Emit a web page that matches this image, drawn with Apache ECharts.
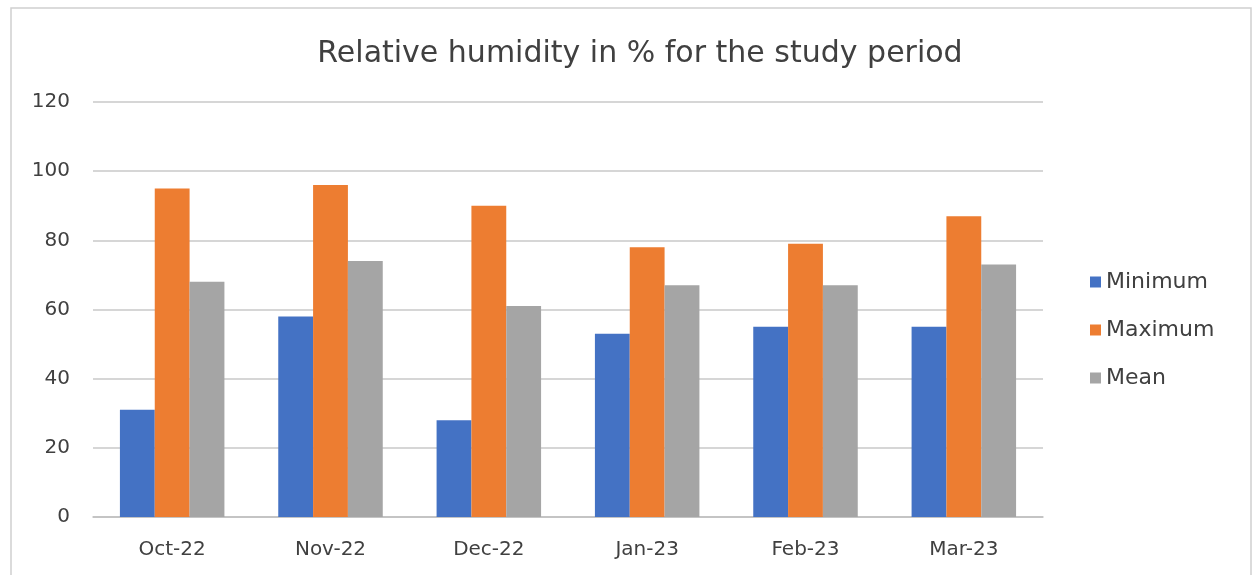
<!DOCTYPE html>
<html><head><meta charset="utf-8">
<script src="https://cdn.jsdelivr.net/npm/echarts@6/dist/echarts.min.js"></script>
<style>html,body{margin:0;padding:0;background:#fff}#c{width:1258px;height:575px}</style>
</head><body><div id="c"></div>
<script>
const categories = ['Oct-22','Nov-22','Dec-22','Jan-23','Feb-23','Mar-23'];
const minimum = [31, 58, 28, 53, 55, 55];
const maximum = [95, 96, 90, 78, 79, 87];
const mean = [68, 74, 61, 67, 67, 73];
const yTicks = [0, 20, 40, 60, 80, 100, 120];

const FONT = 'DejaVu Sans';
const chart = echarts.init(document.getElementById('c'));
chart.setOption({
  animation: false,
  title: {
    text: 'Relative humidity in % for the study period',
    left: 635, top: 34, textAlign: 'center',
    textStyle: {fontFamily: FONT, fontWeight: 'normal', fontSize: 30, color: '#404040'}
  },
  graphic: [{type:'rect', shape:{x:11,y:8,width:1240,height:570}, style:{fill:'none', stroke:'#d0d0d0', lineWidth:1.5}, silent:true}],
  legend: {
    orient: 'vertical', left: 1085, top: 266, itemGap: 26,
    itemWidth: 11, itemHeight: 11, icon: 'rect',
    textStyle: {fontFamily: FONT, fontSize: 22, color: '#404040'},
    data: ['Minimum','Maximum','Mean']
  },
  grid: {left: 93, right: 215, top: 102, bottom: 58},
  xAxis: {
    type: 'category', data: categories,
    axisLine: {lineStyle: {color: '#bfbfbf', width: 1.5}},
    axisTick: {show: false},
    axisLabel: {fontFamily: FONT, fontSize: 20, color: '#404040', margin: 23}
  },
  yAxis: {
    type: 'value', min: yTicks[0], max: yTicks[yTicks.length-1], interval: 20,
    axisLine: {show: false}, axisTick: {show: false},
    axisLabel: {fontFamily: FONT, fontSize: 20, color: '#404040', margin: 23},
    splitLine: {lineStyle: {color: '#c8c8c8', width: 1.5}}
  },
  series: [
    {name:'Minimum', type:'bar', data: minimum, itemStyle:{color:'#4472C4'}, barGap: '0%', barCategoryGap: '34%'},
    {name:'Maximum', type:'bar', data: maximum, itemStyle:{color:'#ED7D31'}, barGap: '0%', barCategoryGap: '34%'},
    {name:'Mean', type:'bar', data: mean, itemStyle:{color:'#A5A5A5'}, barGap: '0%', barCategoryGap: '34%'}
  ]
});
</script></body></html>
